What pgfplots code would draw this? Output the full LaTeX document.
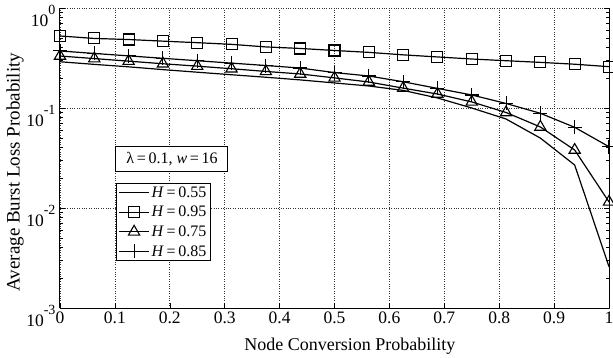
\documentclass[border=0pt]{standalone}
\usepackage{fontspec}
\setmainfont{Liberation Serif}
\usepackage{pgfplots}
\pgfplotsset{compat=1.18}
\newcommand{\tp}[1]{10\raisebox{12.5pt}{\fontsize{14}{14}\selectfont #1}}
\begin{document}
\begin{tikzpicture}[font=\fontsize{17.5}{20}\selectfont]
\path[use as bounding box] (-60pt,-50pt) rectangle (553pt,308pt);
\begin{axis}[
  at={(0pt,0pt)}, anchor=south west,
  scale only axis,
  width=549pt, height=300pt,
  ymode=log,
  xmin=0, xmax=1, ymin=1e-3, ymax=1,
  axis y line=box, axis x line*=bottom,
  x axis line style={-}, y axis line style={-},
  axis line style={line width=1pt},
  xtick={0,0.1,...,1.01},
  xticklabels={0,0.1,0.2,0.3,0.4,0.5,0.6,0.7,0.8,0.9,1},
  ytick={1e-3,1e-2,1e-1,1},
  yticklabels={\tp{-3},\tp{-2},\tp{-1},\tp{0}},
  yticklabel style={yshift=-8pt, xshift=-1pt},
  tick align=inside,
  major tick length=5pt, minor tick length=3pt,
  tick style={black, line width=0.6pt},
  xmajorgrids, ymajorgrids,
  major grid style={dotted, black!80, line width=0.7pt},
  /pgf/number format/assume math mode=true,
  xlabel={Node Conversion Probability},
  ylabel={Average Burst Loss Probability},
  xlabel style={font=\fontsize{18}{20}\selectfont, at={(axis description cs:0.528,0)}, anchor=base, yshift=-42pt},
  ylabel style={font=\fontsize{19}{21}\selectfont, at={(axis description cs:-0.082,0.453)}, anchor=center},
  legend cell align=left,
  legend style={at={(0.102,0.4167)}, anchor=north west, draw=black, line width=1pt,
    font=\fontsize{16}{18}\selectfont, row sep=3.5pt, inner xsep=2pt, inner ysep=1pt},
  legend image code/.code={\draw[#1, mark=none] (0pt,0pt) -- (30pt,0pt); \draw[#1, only marks] plot coordinates {(15pt,0pt)};},
  every axis plot/.append style={black, line width=1.2pt, mark options={solid, line width=1.1pt, fill=none}},
  clip=false,
]
% H = 0.55
\addplot[no marks] coordinates {
(0,0.290) (0.0625,0.273) (0.125,0.258) (0.1875,0.242) (0.25,0.228) (0.3125,0.215)
(0.375,0.203) (0.4375,0.191) (0.5,0.178) (0.5625,0.166) (0.625,0.150) (0.6875,0.126)
(0.75,0.100) (0.8125,0.0776) (0.875,0.050) (0.9375,0.0269) (1,0.00259)};
\addlegendentry{\textit{H}\,=\,0.55\hspace{30pt}}
% H = 0.95
\addplot[mark=square, mark size=5.5pt] coordinates {
(0,0.525) (0.0625,0.496) (0.125,0.484) (0.1875,0.466) (0.25,0.450) (0.3125,0.433)
(0.375,0.408) (0.4375,0.394) (0.5,0.376) (0.5625,0.360) (0.625,0.340) (0.6875,0.324)
(0.75,0.309) (0.8125,0.297) (0.875,0.286) (0.9375,0.274) (1,0.259)};
\addlegendentry{\textit{H}\,=\,0.95\hspace{30pt}}
% H = 0.75
\addplot[mark=triangle, mark size=6.5pt] coordinates {
(0,0.331) (0.0625,0.312) (0.125,0.294) (0.1875,0.277) (0.25,0.262) (0.3125,0.247)
(0.375,0.232) (0.4375,0.219) (0.5,0.200) (0.5625,0.182) (0.625,0.158) (0.6875,0.138)
(0.75,0.115) (0.8125,0.0902) (0.875,0.0646) (0.9375,0.038) (1,0.0115)};
\addlegendentry{\textit{H}\,=\,0.75\hspace{30pt}}
% H = 0.85
\addplot[mark=+, mark size=7pt] coordinates {
(0,0.372) (0.0625,0.351) (0.125,0.332) (0.1875,0.314) (0.25,0.297) (0.3125,0.281)
(0.375,0.266) (0.4375,0.251) (0.5,0.226) (0.5625,0.209) (0.625,0.183) (0.6875,0.157)
(0.75,0.135) (0.8125,0.111) (0.875,0.0885) (0.9375,0.0641) (1,0.041)};
\addlegendentry{\textit{H}\,=\,0.85\hspace{30pt}}
\node[draw=black, line width=1pt, fill=white, minimum width=112pt, minimum height=25pt,
  font=\fontsize{16}{18}\selectfont, inner sep=0pt]
  at (rel axis cs:0.204,0.495) {λ\,=\,0.1, \textit{w}\,=\,16\hspace{6pt}};
\end{axis}
\end{tikzpicture}
\end{document}
